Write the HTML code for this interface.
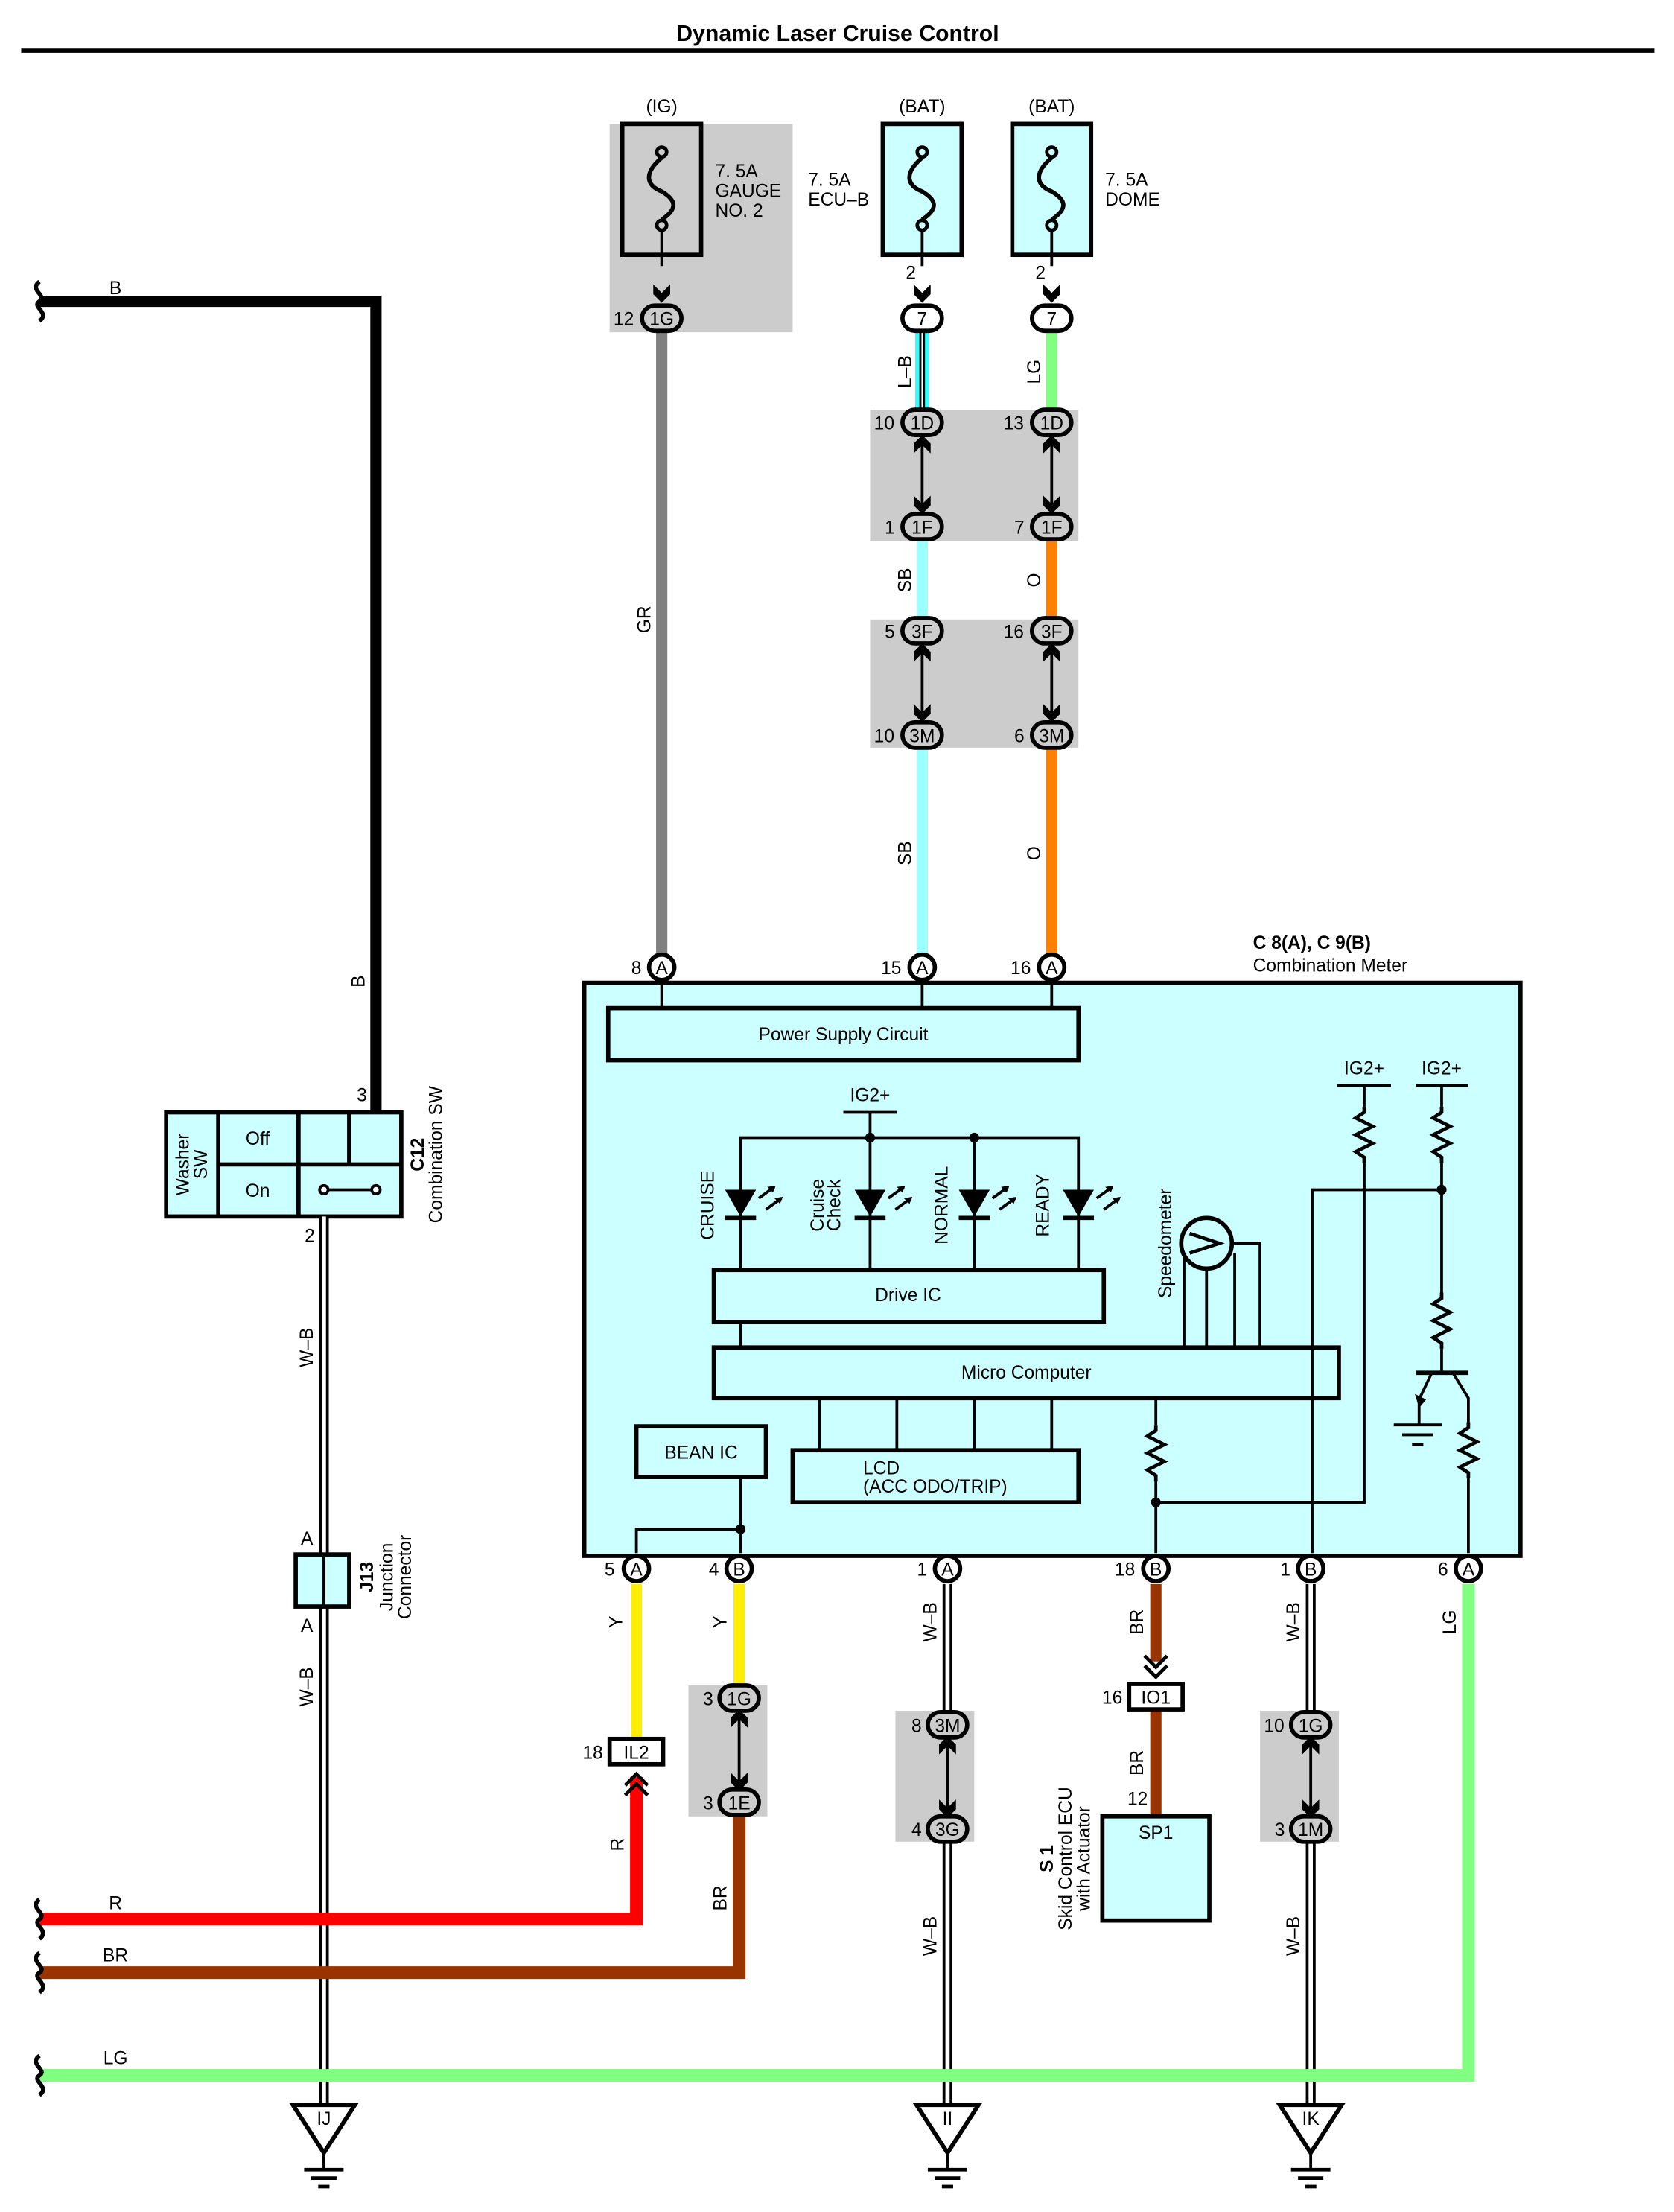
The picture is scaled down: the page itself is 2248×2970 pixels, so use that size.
<!DOCTYPE html>
<html><head><meta charset="utf-8"><style>
html,body{margin:0;padding:0;background:#fff}
svg{display:block}
text{font-family:"Liberation Sans",sans-serif;font-size:13px;fill:#000}
.c{text-anchor:middle}
</style></head><body>
<svg width="2248" height="2970" viewBox="0 0 1189 1571" xmlns="http://www.w3.org/2000/svg">
<defs>
<symbol id="fuse" overflow="visible"><circle cx="0" cy="-26" r="3.5" fill="none" stroke="#000" stroke-width="2.5"/><circle cx="0" cy="26" r="3.5" fill="none" stroke="#000" stroke-width="2.5"/><path d="M0,-22 C-14,-10 -10,-2 0,2 C10,8 12,14 0,22" fill="none" stroke="#000" stroke-width="3"/><line x1="0" y1="29" x2="0" y2="55" stroke="#000" stroke-width="2"/></symbol>
<symbol id="ad" overflow="visible"><path d="M-6,-12 L0,-6 L6,-12 L6,-5 L0,1 L-6,-5Z" fill="#000"/></symbol>
<symbol id="au" overflow="visible"><path d="M-6,12 L0,6 L6,12 L6,5 L0,-1 L-6,5Z" fill="#000"/></symbol>
<symbol id="pg" overflow="visible"><rect x="-14" y="-9" width="28" height="18" rx="9" fill="#ccc" stroke="#000" stroke-width="3"/></symbol>
<symbol id="pw" overflow="visible"><rect x="-14" y="-9" width="28" height="18" rx="9" fill="#fff" stroke="#000" stroke-width="3"/></symbol>
<symbol id="ci" overflow="visible"><circle r="9" fill="#fff" stroke="#000" stroke-width="3"/></symbol>
<symbol id="gnd" overflow="visible"><path d="M-22,0 L22,0 L0,34Z" fill="#fff" stroke="#000" stroke-width="3"/><line x1="0" y1="34" x2="0" y2="46" stroke="#000" stroke-width="2"/><line x1="-14" y1="46" x2="14" y2="46" stroke="#000" stroke-width="2.5"/><line x1="-9" y1="52" x2="9" y2="52" stroke="#000" stroke-width="2.5"/><line x1="-4" y1="58" x2="4" y2="58" stroke="#000" stroke-width="2.5"/></symbol>
<symbol id="res" overflow="visible"><path d="M0,0 L0,4 L-6,8 L6,14 L-6,20 L6,26 L-6,32 L0,36 L0,40" fill="none" stroke="#000" stroke-width="2.5"/></symbol>
<symbol id="led" overflow="visible"><path d="M-11,-10 L11,-10 L0,9Z" fill="#000"/><line x1="-11" y1="10" x2="11" y2="10" stroke="#000" stroke-width="3"/><path d="M13,-4 L24,-12 M18,4 L29,-4" stroke="#000" stroke-width="2"/><path d="M25,-13 L19,-12 L23,-8Z M30,-5 L24,-4 L28,0Z" fill="#000"/></symbol>
<symbol id="wave" overflow="visible"><path d="M0,-14 C-8,-8 6,-4 0,0 C-6,4 8,8 0,14" fill="none" stroke="#000" stroke-width="3"/></symbol>
</defs>

<text x="595" y="29" class="c" style="font-weight:bold;font-size:16px">Dynamic Laser Cruise Control</text>
<line x1="15" y1="36" x2="1175" y2="36" stroke="#000" stroke-width="3"/>

<rect x="433" y="88" width="130" height="148" fill="#ccc"/>
<rect x="618" y="291" width="148" height="93" fill="#ccc"/>
<rect x="618" y="440" width="148" height="91" fill="#ccc"/>
<rect x="489" y="1197" width="56" height="93" fill="#ccc"/>
<rect x="636" y="1215" width="56" height="93" fill="#ccc"/>
<rect x="895" y="1215" width="56" height="93" fill="#ccc"/>

<text x="470" y="80" class="c">(IG)</text>
<rect x="442" y="88" width="56" height="93" fill="none" stroke="#000" stroke-width="3"/>
<use href="#fuse" x="470" y="134"/><use href="#ad" x="470" y="214"/>
<text x="508" y="126">7. 5A</text><text x="508" y="140">GAUGE</text><text x="508" y="154">NO. 2</text>
<text x="655" y="80" class="c">(BAT)</text>
<rect x="627" y="88" width="56" height="93" fill="#ccffff" stroke="#000" stroke-width="3"/>
<use href="#fuse" x="655" y="134"/><use href="#ad" x="655" y="214"/>
<text x="574" y="132">7. 5A</text><text x="574" y="146">ECU–B</text>
<text x="647" y="198" class="c">2</text>
<text x="747" y="80" class="c">(BAT)</text>
<rect x="719" y="88" width="56" height="93" fill="#ccffff" stroke="#000" stroke-width="3"/>
<use href="#fuse" x="747" y="134"/><use href="#ad" x="747" y="214"/>
<text x="785" y="132">7. 5A</text><text x="785" y="146">DOME</text>
<text x="739" y="198" class="c">2</text>

<line x1="470" y1="236" x2="470" y2="680" stroke="#808080" stroke-width="8"/>
<line x1="655" y1="236" x2="655" y2="292" stroke="#33ffff" stroke-width="10"/>
<line x1="655" y1="236" x2="655" y2="292" stroke="#000" stroke-width="4"/>
<line x1="655" y1="236" x2="655" y2="292" stroke="#fff" stroke-width="1"/>
<line x1="655" y1="384" x2="655" y2="440" stroke="#99ffff" stroke-width="8"/>
<line x1="655" y1="531" x2="655" y2="680" stroke="#99ffff" stroke-width="8"/>
<line x1="747" y1="236" x2="747" y2="292" stroke="#80ff80" stroke-width="8"/>
<line x1="747" y1="384" x2="747" y2="440" stroke="#ff8000" stroke-width="8"/>
<line x1="747" y1="531" x2="747" y2="680" stroke="#ff8000" stroke-width="8"/>
<g stroke="#000" stroke-width="2"><line x1="655" y1="310" x2="655" y2="364"/><line x1="747" y1="310" x2="747" y2="364"/><line x1="655" y1="458" x2="655" y2="512"/><line x1="747" y1="458" x2="747" y2="512"/></g>
<use href="#au" x="655" y="310"/><use href="#ad" x="655" y="364"/><use href="#au" x="747" y="310"/><use href="#ad" x="747" y="364"/>
<use href="#au" x="655" y="458"/><use href="#ad" x="655" y="512"/><use href="#au" x="747" y="458"/><use href="#ad" x="747" y="512"/>

<use href="#pg" x="470" y="226"/><text x="470" y="231" class="c">1G</text><text x="443" y="231" class="c">12</text>
<use href="#pw" x="655" y="226"/><text x="655" y="231" class="c">7</text>
<use href="#pw" x="747" y="226"/><text x="747" y="231" class="c">7</text>
<use href="#pg" x="655" y="300"/><text x="655" y="305" class="c">1D</text><text x="628" y="305" class="c">10</text>
<use href="#pg" x="747" y="300"/><text x="747" y="305" class="c">1D</text><text x="720" y="305" class="c">13</text>
<use href="#pg" x="655" y="374"/><text x="655" y="379" class="c">1F</text><text x="632" y="379" class="c">1</text>
<use href="#pg" x="747" y="374"/><text x="747" y="379" class="c">1F</text><text x="724" y="379" class="c">7</text>
<use href="#pg" x="655" y="448"/><text x="655" y="453" class="c">3F</text><text x="632" y="453" class="c">5</text>
<use href="#pg" x="747" y="448"/><text x="747" y="453" class="c">3F</text><text x="720" y="453" class="c">16</text>
<use href="#pg" x="655" y="522"/><text x="655" y="527" class="c">3M</text><text x="628" y="527" class="c">10</text>
<use href="#pg" x="747" y="522"/><text x="747" y="527" class="c">3M</text><text x="724" y="527" class="c">6</text>

<text transform="translate(462,440) rotate(-90)" class="c">GR</text>
<text transform="translate(647,264) rotate(-90)" class="c">L–B</text>
<text transform="translate(739,264) rotate(-90)" class="c">LG</text>
<text transform="translate(647,412) rotate(-90)" class="c">SB</text>
<text transform="translate(739,412) rotate(-90)" class="c">O</text>
<text transform="translate(647,606) rotate(-90)" class="c">SB</text>
<text transform="translate(739,606) rotate(-90)" class="c">O</text>

<rect x="415" y="698" width="665" height="407" fill="#ccffff" stroke="#000" stroke-width="3"/>
<text x="890" y="674" style="font-weight:bold">C 8(A), C 9(B)</text>
<text x="890" y="690">Combination Meter</text>
<g stroke="#000" stroke-width="2" fill="none">
<line x1="470" y1="696" x2="470" y2="716"/><line x1="655" y1="696" x2="655" y2="716"/><line x1="747" y1="696" x2="747" y2="716"/>
<rect x="432" y="716" width="334" height="37" stroke-width="3"/>
<line x1="599" y1="790" x2="637" y2="790"/><line x1="618" y1="790" x2="618" y2="808"/>
<path d="M526,902 V808 H766 V902 M618,808 V902 M692,808 V902"/>
<rect x="507" y="902" width="277" height="37" stroke-width="3"/>
<line x1="526" y1="939" x2="526" y2="957"/>
<rect x="507" y="957" width="444" height="36" stroke-width="3"/>
<circle cx="857" cy="883" r="18" stroke-width="3"/>
<path d="M845,876 L866,883 L845,890" stroke-width="2.5"/>
<path d="M841,957 V890 M857,957 V901 M877,957 V890 M875,883 H895 V957"/>
<line x1="582" y1="993" x2="582" y2="1030"/><line x1="637" y1="993" x2="637" y2="1030"/><line x1="692" y1="993" x2="692" y2="1030"/><line x1="747" y1="993" x2="747" y2="1030"/>
<rect x="563" y="1030" width="203" height="37" stroke-width="3"/>
<rect x="452" y="1013" width="92" height="36" stroke-width="3"/>
<path d="M526,1049 V1103 M526,1086 H452 V1103"/>
<line x1="821" y1="993" x2="821" y2="1012"/><line x1="821" y1="1052" x2="821" y2="1103"/>
<path d="M821,1067 H969 V826"/>
<line x1="950" y1="771" x2="988" y2="771"/><line x1="969" y1="771" x2="969" y2="786"/>
<line x1="1006" y1="771" x2="1043" y2="771"/><line x1="1024" y1="771" x2="1024" y2="786"/>
<path d="M1024,826 V918 M1024,958 V975"/>
<path d="M932,1103 V845 H1024"/>
<line x1="1006" y1="975" x2="1043" y2="975" stroke-width="3"/>
<path d="M1017,975 L1008,994 V1012 M1032,975 L1043,993 V1010 M1043,1050 V1103"/>
<line x1="990" y1="1012" x2="1024" y2="1012"/><line x1="996" y1="1019" x2="1018" y2="1019"/><line x1="1003" y1="1026" x2="1011" y2="1026"/>
</g>
<path d="M1008,1000 L1005,990 L1013,994Z" fill="#000"/>
<use href="#res" x="821" y="1012"/><use href="#res" x="969" y="786"/><use href="#res" x="1024" y="786"/><use href="#res" x="1024" y="918"/><use href="#res" x="1043" y="1010"/>
<g fill="#000"><circle cx="618" cy="808" r="3.5"/><circle cx="692" cy="808" r="3.5"/><circle cx="526" cy="1086" r="3.5"/><circle cx="821" cy="1067" r="3.5"/><circle cx="1024" cy="845" r="3.5"/></g>
<use href="#led" x="526" y="855"/><use href="#led" x="618" y="855"/><use href="#led" x="692" y="855"/><use href="#led" x="766" y="855"/>
<text x="599" y="739" class="c">Power Supply Circuit</text>
<text x="618" y="782" class="c">IG2+</text>
<text x="969" y="763" class="c">IG2+</text><text x="1024" y="763" class="c">IG2+</text>
<text transform="translate(507,856) rotate(-90)" class="c">CRUISE</text>
<text transform="translate(585,856) rotate(-90)" class="c">Cruise</text>
<text transform="translate(597,856) rotate(-90)" class="c">Check</text>
<text transform="translate(673,856) rotate(-90)" class="c">NORMAL</text>
<text transform="translate(745,856) rotate(-90)" class="c">READY</text>
<text transform="translate(832,883) rotate(-90)" class="c">Speedometer</text>
<text x="645" y="924" class="c">Drive IC</text>
<text x="729" y="979" class="c">Micro Computer</text>
<text x="498" y="1036" class="c">BEAN IC</text>
<text x="613" y="1047">LCD</text><text x="613" y="1060">(ACC ODO/TRIP)</text>
<use href="#ci" x="470" y="687"/><text x="470" y="692" class="c">A</text><text x="452" y="692" class="c">8</text>
<use href="#ci" x="655" y="687"/><text x="655" y="692" class="c">A</text><text x="633" y="692" class="c">15</text>
<use href="#ci" x="747" y="687"/><text x="747" y="692" class="c">A</text><text x="725" y="692" class="c">16</text>

<path d="M28,214 H267 V790" fill="none" stroke="#000" stroke-width="8"/>
<use href="#wave" x="28" y="214"/>
<text x="82" y="209" class="c">B</text>
<text transform="translate(259,697) rotate(-90)" class="c">B</text>
<text x="257" y="782" class="c">3</text>
<g fill="none" stroke="#000" stroke-width="3">
<rect x="118" y="790" width="167" height="74" fill="#ccffff"/>
<line x1="155" y1="790" x2="155" y2="864"/><line x1="212" y1="790" x2="212" y2="864"/><line x1="248" y1="790" x2="248" y2="827"/><line x1="155" y1="827" x2="285" y2="827"/>
</g>
<g stroke="#000" stroke-width="2" fill="#fff"><line x1="230" y1="845" x2="267" y2="845"/><circle cx="230" cy="845" r="3"/><circle cx="267" cy="845" r="3"/></g>
<text transform="translate(134,827) rotate(-90)" class="c">Washer</text>
<text transform="translate(147,827) rotate(-90)" class="c">SW</text>
<text x="183" y="813" class="c">Off</text><text x="183" y="850" class="c">On</text>
<text transform="translate(301,820) rotate(-90)" class="c" style="font-weight:bold">C12</text>
<text transform="translate(314,820) rotate(-90)" class="c">Combination SW</text>
<text x="220" y="882" class="c">2</text>

<g>
<line x1="230" y1="864" x2="230" y2="1495" stroke="#000" stroke-width="7"/><line x1="230" y1="864" x2="230" y2="1495" stroke="#fff" stroke-width="3"/>
<line x1="673" y1="1125" x2="673" y2="1216" stroke="#000" stroke-width="7"/><line x1="673" y1="1125" x2="673" y2="1216" stroke="#fff" stroke-width="3"/>
<line x1="673" y1="1308" x2="673" y2="1495" stroke="#000" stroke-width="7"/><line x1="673" y1="1308" x2="673" y2="1495" stroke="#fff" stroke-width="3"/>
<line x1="931" y1="1125" x2="931" y2="1216" stroke="#000" stroke-width="7"/><line x1="931" y1="1125" x2="931" y2="1216" stroke="#fff" stroke-width="3"/>
<line x1="931" y1="1308" x2="931" y2="1495" stroke="#000" stroke-width="7"/><line x1="931" y1="1308" x2="931" y2="1495" stroke="#fff" stroke-width="3"/>
</g>
<text transform="translate(222,957) rotate(-90)" class="c">W–B</text>
<text transform="translate(222,1198) rotate(-90)" class="c">W–B</text>
<rect x="210" y="1104" width="38" height="37" fill="#ccffff" stroke="#000" stroke-width="3"/>
<line x1="230" y1="1104" x2="230" y2="1141" stroke="#000" stroke-width="2"/>
<text x="218" y="1097" class="c">A</text><text x="218" y="1159" class="c">A</text>
<text transform="translate(265,1120) rotate(-90)" class="c" style="font-weight:bold">J13</text>
<text transform="translate(279,1120) rotate(-90)" class="c">Junction</text>
<text transform="translate(292,1120) rotate(-90)" class="c">Connector</text>

<path d="M28,1363 H452 V1262" fill="none" stroke="#ff0000" stroke-width="9"/>
<path d="M28,1401 H525 V1290" fill="none" stroke="#993300" stroke-width="9"/>
<path d="M28,1474 H1043 V1125" fill="none" stroke="#80ff80" stroke-width="9"/>
<line x1="452" y1="1125" x2="452" y2="1235" stroke="#ffee00" stroke-width="8"/>
<line x1="525" y1="1125" x2="525" y2="1197" stroke="#ffee00" stroke-width="8"/>
<line x1="821" y1="1125" x2="821" y2="1180" stroke="#993300" stroke-width="8"/>
<line x1="821" y1="1214" x2="821" y2="1290" stroke="#993300" stroke-width="8"/>
<use href="#wave" x="28" y="1363"/><use href="#wave" x="28" y="1401"/><use href="#wave" x="28" y="1474"/>
<text x="82" y="1356" class="c">R</text><text x="82" y="1393" class="c">BR</text><text x="82" y="1466" class="c">LG</text>

<path d="M444,1268 L452,1260 L460,1268 M444,1275 L452,1267 L460,1275" fill="none" stroke="#000" stroke-width="2.5"/>
<path d="M813,1176 L821,1184 L829,1176 M813,1183 L821,1191 L829,1183" fill="none" stroke="#000" stroke-width="2.5"/>
<rect x="433" y="1235" width="38" height="18" fill="#fff" stroke="#000" stroke-width="3"/><text x="452" y="1249" class="c">IL2</text><text x="421" y="1249" class="c">18</text>
<rect x="802" y="1196" width="38" height="18" fill="#fff" stroke="#000" stroke-width="3"/><text x="821" y="1210" class="c">IO1</text><text x="790" y="1210" class="c">16</text>
<rect x="783" y="1290" width="76" height="74" fill="#ccffff" stroke="#000" stroke-width="3"/><text x="821" y="1306" class="c">SP1</text>
<text x="808" y="1282" class="c">12</text>
<text transform="translate(748,1320) rotate(-90)" class="c" style="font-weight:bold">S 1</text>
<text transform="translate(761,1320) rotate(-90)" class="c">Skid Control ECU</text>
<text transform="translate(774,1320) rotate(-90)" class="c">with Actuator</text>

<g stroke="#000" stroke-width="2"><line x1="525" y1="1215" x2="525" y2="1271"/><line x1="673" y1="1234" x2="673" y2="1290"/><line x1="931" y1="1234" x2="931" y2="1290"/></g>
<use href="#au" x="525" y="1215"/><use href="#ad" x="525" y="1271"/>
<use href="#au" x="673" y="1234"/><use href="#ad" x="673" y="1290"/>
<use href="#au" x="931" y="1234"/><use href="#ad" x="931" y="1290"/>
<use href="#pg" x="525" y="1206"/><text x="525" y="1211" class="c">1G</text><text x="503" y="1211" class="c">3</text>
<use href="#pg" x="525" y="1280"/><text x="525" y="1285" class="c">1E</text><text x="503" y="1285" class="c">3</text>
<use href="#pg" x="673" y="1225"/><text x="673" y="1230" class="c">3M</text><text x="651" y="1230" class="c">8</text>
<use href="#pg" x="673" y="1299"/><text x="673" y="1304" class="c">3G</text><text x="651" y="1304" class="c">4</text>
<use href="#pg" x="931" y="1225"/><text x="931" y="1230" class="c">1G</text><text x="905" y="1230" class="c">10</text>
<use href="#pg" x="931" y="1299"/><text x="931" y="1304" class="c">1M</text><text x="909" y="1304" class="c">3</text>

<use href="#ci" x="452" y="1114"/><text x="452" y="1119" class="c">A</text><text x="433" y="1119" class="c">5</text>
<use href="#ci" x="525" y="1114"/><text x="525" y="1119" class="c">B</text><text x="507" y="1119" class="c">4</text>
<use href="#ci" x="673" y="1114"/><text x="673" y="1119" class="c">A</text><text x="655" y="1119" class="c">1</text>
<use href="#ci" x="821" y="1114"/><text x="821" y="1119" class="c">B</text><text x="799" y="1119" class="c">18</text>
<use href="#ci" x="931" y="1114"/><text x="931" y="1119" class="c">B</text><text x="913" y="1119" class="c">1</text>
<use href="#ci" x="1043" y="1114"/><text x="1043" y="1119" class="c">A</text><text x="1025" y="1119" class="c">6</text>

<text transform="translate(442,1152) rotate(-90)" class="c">Y</text>
<text transform="translate(516,1152) rotate(-90)" class="c">Y</text>
<text transform="translate(443,1310) rotate(-90)" class="c">R</text>
<text transform="translate(516,1348) rotate(-90)" class="c">BR</text>
<text transform="translate(665,1152) rotate(-90)" class="c">W–B</text>
<text transform="translate(665,1375) rotate(-90)" class="c">W–B</text>
<text transform="translate(812,1152) rotate(-90)" class="c">BR</text>
<text transform="translate(812,1252) rotate(-90)" class="c">BR</text>
<text transform="translate(923,1152) rotate(-90)" class="c">W–B</text>
<text transform="translate(923,1375) rotate(-90)" class="c">W–B</text>
<text transform="translate(1034,1152) rotate(-90)" class="c">LG</text>

<use href="#gnd" x="230" y="1495"/><text x="230" y="1509" class="c">IJ</text>
<use href="#gnd" x="673" y="1495"/><text x="673" y="1509" class="c">II</text>
<use href="#gnd" x="931" y="1495"/><text x="931" y="1509" class="c">IK</text>
</svg>
</body></html>
